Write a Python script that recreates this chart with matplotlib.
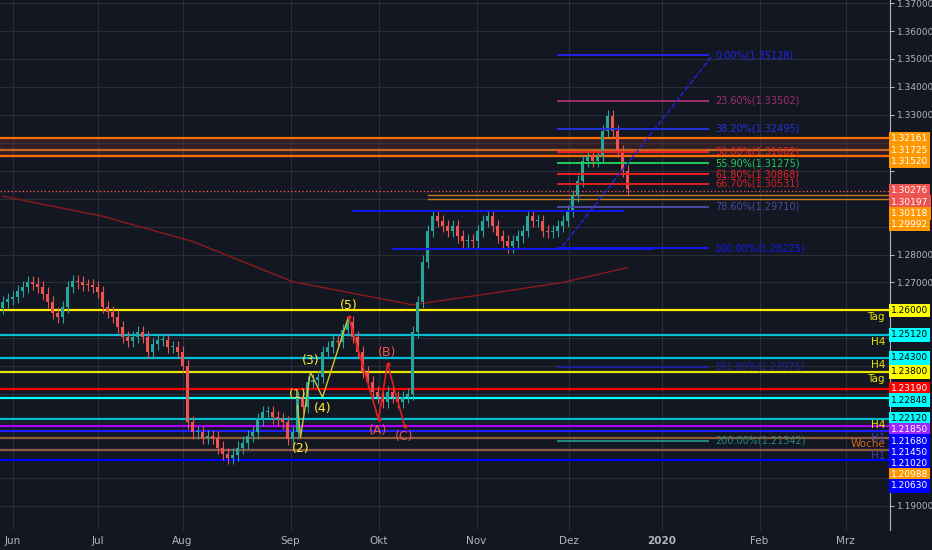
import matplotlib.pyplot as plt
import matplotlib.transforms as mtransforms
import numpy as np

# daily closes, one bar per 5 px
closes = [1.2631, 1.2640, 1.2649, 1.2670, 1.2685, 1.2700, 1.2696, 1.2685, 1.2660, 1.2631,
          1.2590, 1.2577, 1.2613, 1.2685, 1.2705, 1.2700, 1.2692, 1.2690, 1.2685, 1.2667,
          1.2613, 1.2595, 1.2577, 1.2541, 1.2505, 1.2490, 1.2505, 1.2523, 1.2505, 1.2451,
          1.2480, 1.2494, 1.2494, 1.2469, 1.2469, 1.2450, 1.2400, 1.2199, 1.2163, 1.2163,
          1.2145, 1.2150, 1.2145, 1.2109, 1.2085, 1.2073, 1.2084, 1.2109, 1.2127, 1.2150,
          1.2163, 1.2210, 1.2235, 1.2235, 1.2217, 1.2210, 1.2199, 1.2140, 1.2163, 1.2289,
          1.2253, 1.2343, 1.2350, 1.2361, 1.2450, 1.2469, 1.2490, 1.2487, 1.2530, 1.2559,
          1.2505, 1.2451, 1.2379, 1.2343, 1.2307, 1.2289, 1.2271, 1.2307, 1.2289, 1.2271,
          1.2289, 1.2300, 1.2523, 1.2631, 1.2775, 1.2883, 1.2937, 1.2919, 1.2901, 1.2883,
          1.2901, 1.2865, 1.2847, 1.2850, 1.2847, 1.2883, 1.2919, 1.2937, 1.2901, 1.2865,
          1.2847, 1.2829, 1.2847, 1.2865, 1.2883, 1.2937, 1.2919, 1.2919, 1.2883, 1.2880,
          1.2883, 1.2901, 1.2919, 1.2955, 1.3009, 1.3063, 1.3135, 1.3153, 1.3135, 1.3153,
          1.3243, 1.3297, 1.3243, 1.3171, 1.3099, 1.3034]
first_open = 1.2610
wick = 0.0022

ma_x = [0, 20, 38, 58, 82, 100, 112, 125]
ma_y = [1.3009, 1.2937, 1.2847, 1.2703, 1.2620, 1.2667, 1.2700, 1.2753]

month_pos = [2, 19, 36, 57.6, 75.2, 94.8, 113.2, 131.8, 151.4, 168.6]
month_lab = ['Jun', 'Jul', 'Aug', 'Sep', 'Okt', 'Nov', 'Dez', '2020', 'Feb', 'Mrz']

# horizontal support / resistance lines: price, colour, side note
level_price = [1.32161, 1.31725, 1.31520, 1.26000, 1.25120, 1.24300, 1.23800, 1.23190,
               1.22848, 1.22120, 1.21850, 1.21680, 1.21450, 1.21020, 1.20988, 1.20630]
level_color = ['#ff6d00', '#c8641e', '#ff6d00', '#ffee00', '#00bcd4', '#00bcd4', '#e6e600', '#ff0000',
               '#00ffff', '#00bcd4', '#aa00ff', '#1e1eff', '#8d5a3c', '#1e1eff', '#8d5a3c', '#0000ff']
level_note = ['', '', '', 'Tag', 'H4', 'H4', 'Tag', '', '', 'H4', '', 'H1', 'Woche', 'H1', '', '']
label_bg = ['#ff9800', '#ff9800', '#ff9800', '#ffff00', '#00ffff', '#00ffff', '#ffff00', '#ff0000',
            '#00ffff', '#00ffff', '#9c27ff', '#0000ff', '#0000ff', '#0000ff', '#ff9800', '#0000ff']
label_fg = ['#ffffff', '#ffffff', '#ffffff', '#000000', '#000000', '#000000', '#000000', '#ffffff',
            '#000000', '#000000', '#ffffff', '#ffffff', '#ffffff', '#ffffff', '#ffffff', '#ffffff']
note_color = {'Tag': '#e6e600', 'H4': '#e6e600', 'H1': '#3d3dbd', 'Woche': '#d2691e'}

near_price = [1.30276, 1.30197, 1.30118, 1.29992]
near_bg = ['#ef5350', '#ef5350', '#ff9800', '#ff9800']

fib_pct = ['0.00%', '23.60%', '38.20%', '50.00%', '55.90%', '61.80%', '66.70%', '78.60%',
           '100.00%', '161.80%', '200.00%']
fib_price = [1.35128, 1.33502, 1.32495, 1.31682, 1.31275, 1.30868, 1.30531, 1.29710,
             1.28225, 1.23975, 1.21342]
fib_color = ['#2222ee', '#a0306a', '#2233dd', '#ee2222', '#22cc55', '#ee2020', '#dd2020', '#4a4aa0',
             '#1515ee', '#2020a0', '#1d8a80']

wave_x = [59, 59.6, 61.6, 64, 69.2]
wave_y = [1.2260, 1.2145, 1.2379, 1.2289, 1.2577]
wave_lab = ['(1)', '(2)', '(3)', '(4)', '(5)']
abc_x = [69.2, 75.2, 77, 80.4]
abc_y = [1.2577, 1.2210, 1.2408, 1.2188]

bg = '#131722'
fig = plt.figure(figsize=(9.32, 5.5), dpi=100, facecolor=bg)
ax = fig.add_axes([0, 20 / 550, 890 / 932, 530 / 550], facecolor=bg)
ax.set_xlim(-0.5, 177.5)
ax.set_ylim(1.1814, 1.3711)

for p in month_pos:
    ax.axvline(p, color='#2a2e39', lw=0.8, zorder=0)
for p in np.arange(1.19, 1.3701, 0.01):
    ax.axhline(p, color='#2a2e39', lw=0.8, zorder=0)

# levels
for p, c, n in zip(level_price, level_color, level_note):
    ax.axhline(p, color=c, lw=1.6, zorder=2)
    if n:
        ax.text(176.5, p - 0.0006, n, color=note_color[n], fontsize=7.5, ha='right', va='top', zorder=6)
ax.axhspan(level_price[2], level_price[0], color='#8b3a3a', alpha=0.25, zorder=1)
ax.axhline(near_price[0], color='#ef5350', lw=1, ls=':', zorder=2)
ax.plot([85, 178], [near_price[2], near_price[2]], color='#c87a1e', lw=1, zorder=2)
ax.plot([85, 178], [near_price[3], near_price[3]], color='#c87a1e', lw=1, zorder=2)

# moving average
ax.plot(ma_x, ma_y, color='#8b1a1a', lw=1, zorder=3)

# candles
opens = [first_open] + closes[:-1]
for i, (o, c) in enumerate(zip(opens, closes)):
    col = '#26a69a' if c >= o else '#ef5350'
    ax.vlines(i, min(o, c) - wick, max(o, c) + wick, color=col, lw=0.8, zorder=4)
    ax.bar(i, max(abs(c - o), 0.0004), bottom=min(o, c), width=0.75, color=col, zorder=4)

# fib retracement
for pct, p, c in zip(fib_pct, fib_price, fib_color):
    ax.plot([111, 141], [p, p], color=c, lw=1.4, zorder=5)
    ax.text(142.5, p, '%s(%.5f)' % (pct, p), color=c, fontsize=7, va='center', zorder=6)
ax.plot([112, 142], [1.2829, 1.3513], color='#2222ee', lw=1, ls='--', zorder=5)
ax.plot([70, 124], [1.2955, 1.2955], color='#1515ee', lw=1.4, zorder=5)
ax.plot([78, 130], [1.2820, 1.2820], color='#1515ee', lw=1.4, zorder=5)

# elliott waves
ax.plot(wave_x, wave_y, color='#c8c832', lw=1, zorder=6)
for i, (x, y, t) in enumerate(zip(wave_x, wave_y, wave_lab)):
    dy = 0.004 if i in (0, 2, 4) else -0.004
    ax.text(x, y + dy, t, color='#ffee33', fontsize=9, ha='center', va='center', zorder=7)
ax.plot(abc_x, abc_y, color='#e02020', lw=1.2, marker='o', ms=2, zorder=6)
for x, y, t, dy in zip(abc_x[1:], abc_y[1:], ['(A)', '(B)', '(C)'], [-0.004, 0.004, -0.004]):
    ax.text(x, y + dy, t, color='#ef5350', fontsize=9, ha='center', va='center', zorder=7)

# price tags on the scale, pushed apart so they do not overlap
tags = list(zip(level_price, label_bg, label_fg)) + [(p, b, '#ffffff') for p, b in zip(near_price, near_bg)]
tags.sort(key=lambda t: -t[0])
gap = 0.0040
shown = []
for p, b, f in tags:
    y = p
    if shown and shown[-1] - y < gap:
        y = shown[-1] - gap
    shown.append(y)

# axes text
ax.set_xticks(month_pos)
ax.set_xticklabels(month_lab)
for lbl in ax.get_xticklabels():
    lbl.set_color('#b2b5be')
    lbl.set_fontsize(7.5)
    if lbl.get_text() == '2020':
        lbl.set_fontweight('bold')
ax.tick_params(axis='x', length=0, pad=4)
ax.yaxis.tick_right()
yt = np.arange(1.19, 1.3701, 0.01)
ax.set_yticks(yt)
ax.set_yticklabels(['' if min(abs(v - s) for s in shown) < 0.0045 else '%.5f' % v for v in yt])
ax.tick_params(axis='y', colors='#b2b5be', labelsize=6.5, length=3, pad=2)
for s in ax.spines.values():
    s.set_visible(False)
ax.spines['right'].set_visible(True)
ax.spines['right'].set_color('#b2b5be')

trans = mtransforms.blended_transform_factory(ax.transAxes, ax.transData)
for (p, b, f), y in zip(tags, shown):
    ax.text(1.001, y, '%.5f' % p, transform=trans, fontsize=6.5, color=f, va='center', clip_on=False,
            zorder=10, bbox=dict(boxstyle='square,pad=0.25', fc=b, ec='none'))

fig.savefig('out.png', dpi=100, facecolor=bg)
